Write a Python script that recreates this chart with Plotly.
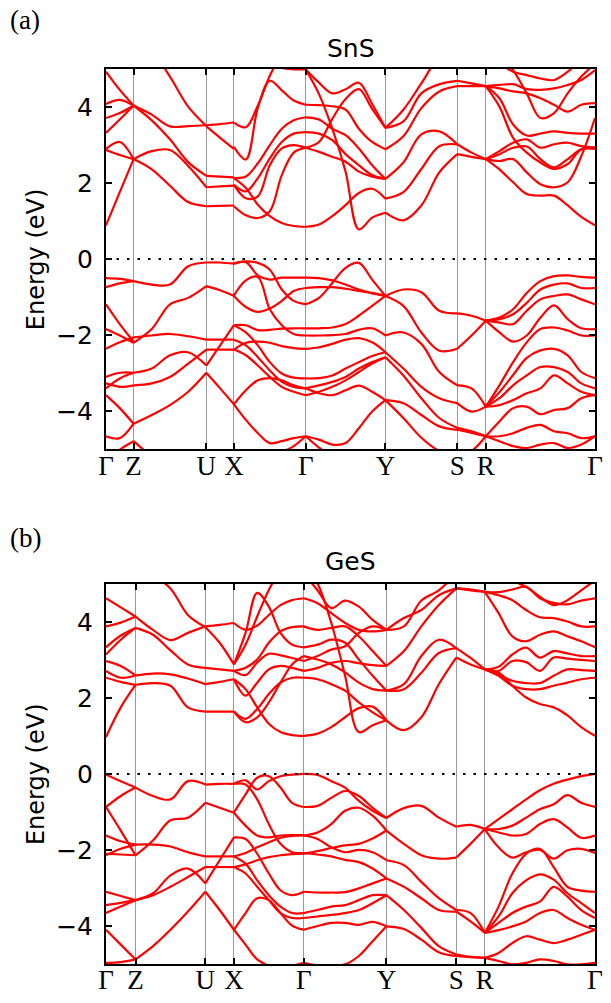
import numpy as np
import plotly.graph_objects as go

# ---------------- data: high-symmetry points ----------------
KLABELS = ["Γ", "Z", "U", "X", "Γ", "Y", "S", "R", "Γ"]
SNS_KPTS = [0, 28, 102, 130, 203, 284, 357, 386, 497]
GES_KPTS = [0, 30, 101, 130, 201, 285, 356, 385, 497]
YTICKS = [-4, -2, 0, 2, 4]

# ---------------- SnS bands (eV), per path segment ----------------
SNS_GZ = [
    [0.89, 1.76, 2.63], [2.90, 3.08, 2.63], [2.87, 2.74, 2.63], [3.32, 3.67, 4.04],
    [3.71, 3.84, 4.04], [4.08, 4.19, 4.04], [4.93, 4.45, 4.04],
    [-0.50, -0.52, -0.58], [-0.74, -0.64, -0.58], [-1.19, -1.71, -2.17], [-1.84, -2.01, -2.20],
    [-2.36, -2.19, -2.06], [-3.10, -2.99, -2.99], [-3.40, -3.14, -2.99], [-3.27, -3.36, -3.32],
    [-3.58, -3.92, -4.33], [-4.66, -4.71, -4.33], [-5.31, -5.01, -4.79],
]
SNS_ZU = [
    [4.04, 3.80, 3.49, 3.50, 3.52], [4.04, 3.65, 3.15, 2.55, 2.19], [2.63, 2.84, 2.87, 2.45, 1.89],
    [2.63, 2.36, 1.93, 1.50, 1.39], [6.00, 5.50, 4.80, 4.01, 3.50],
    [-0.58, -0.67, -0.67, -0.19, -0.09], [-2.20, -1.84, -1.19, -1.02, -0.71],
    [-2.06, -2.01, -1.97, -2.03, -2.12], [-2.99, -2.88, -2.53, -2.45, -2.80],
    [-3.32, -3.27, -3.10, -2.75, -2.38], [-4.33, -4.10, -3.84, -3.49, -2.99],
    [-4.79, -5.20, -5.60, -5.80, -5.90],
]
SNS_UX = [
    [3.52, 3.55, 3.60], [3.49, 3.19, 2.90], [2.19, 2.17, 2.15], [1.89, 1.91, 1.93], [1.39, 1.40, 1.41],
    [-0.09, -0.09, -0.12], [-0.71, -0.82, -0.97], [-2.12, -2.12, -2.12], [-2.80, -2.27, -1.74],
    [-2.38, -2.38, -2.38], [-2.99, -3.40, -3.82],
]
SNS_XG = [
    [3.59, 3.47, 4.04, 4.82, 5.40, 5.80, 6.00], [5.90, 5.70, 5.45, 5.20, 5.03, 4.99, 4.99],
    [2.95, 2.62, 3.98, 4.69, 4.44, 4.17, 4.06], [2.13, 2.17, 2.52, 3.00, 3.43, 3.65, 3.73],
    [2.13, 1.87, 1.43, 1.13, 0.95, 0.87, 0.85], [1.95, 1.60, 1.65, 2.47, 2.91, 3.00, 2.93],
    [1.39, 1.15, 1.08, 1.26, 2.21, 2.80, 2.93], [1.95, 1.78, 2.13, 2.65, 3.08, 3.30, 3.34],
    [-0.12, -0.08, -0.43, -0.54, -0.49, -0.49, -0.49], [-0.12, -0.06, -0.10, -0.28, -0.80, -1.10, -1.19],
    [-0.96, -0.56, -0.47, -1.32, -1.74, -1.97, -2.01], [-0.97, -1.26, -1.39, -1.30, -1.10, -0.84, -0.76],
    [-1.74, -1.74, -1.87, -1.86, -1.83, -1.82, -1.82], [-2.38, -2.20, -2.17, -2.20, -2.29, -2.34, -2.36],
    [-1.74, -1.93, -2.27, -2.71, -3.01, -3.12, -3.14], [-2.12, -2.27, -2.58, -2.93, -3.23, -3.36, -3.40],
    [-2.38, -2.53, -2.80, -3.10, -3.36, -3.49, -3.58], [-3.82, -3.45, -3.19, -3.13, -3.19, -3.32, -3.40],
    [-3.82, -4.23, -4.58, -4.84, -4.79, -4.71, -4.66], [-5.90, -5.80, -5.60, -5.40, -5.10, -4.92, -4.66],
]
SNS_GY = [
    [4.99, 4.64, 4.36, 4.47, 4.64, 4.08, 3.45], [4.99, 4.34, 3.43, 2.30, 0.78, 1.09, 1.22],
    [4.06, 4.05, 4.02, 3.93, 3.43, 3.08, 2.89], [3.73, 3.67, 3.43, 3.26, 2.91, 2.47, 2.11],
    [3.34, 3.30, 3.13, 2.76, 2.47, 2.21, 2.11], [0.85, 0.91, 1.13, 1.42, 1.74, 1.85, 1.59],
    [2.93, 3.08, 3.69, 4.21, 4.47, 3.95, 3.45], [2.93, 2.82, 2.69, 2.56, 2.30, 2.17, 2.11],
    [-0.49, -0.50, -0.56, -0.67, -0.80, -0.89, -0.97], [-1.19, -1.02, -0.63, -0.23, -0.10, -0.54, -0.97],
    [-0.76, -0.74, -0.74, -0.78, -0.84, -0.90, -0.97], [-1.82, -1.82, -1.80, -1.71, -1.49, -1.23, -0.97],
    [-2.01, -2.01, -2.00, -1.97, -1.86, -1.82, -2.01], [-2.36, -2.32, -2.23, -2.12, -2.08, -2.19, -2.45],
    [-3.14, -3.13, -3.06, -2.88, -2.71, -2.55, -2.45], [-3.40, -3.32, -3.23, -3.10, -2.88, -2.71, -2.58],
    [-3.58, -3.49, -3.36, -3.19, -2.97, -2.75, -2.58], [-3.40, -3.53, -3.58, -3.45, -3.33, -3.49, -3.71],
    [-4.66, -4.75, -4.88, -4.84, -4.45, -4.01, -3.71], [-4.66, -4.96, -5.20, -5.40, -5.60, -5.70, -5.80],
]
SNS_YS = [
    [3.45, 3.93, 4.62, 5.32, 5.58], [3.45, 3.62, 4.36, 4.60, 4.69], [2.89, 3.23, 3.97, 4.41, 4.55],
    [2.11, 2.54, 3.28, 3.36, 3.02], [1.59, 1.76, 2.37, 2.97, 3.02], [1.22, 1.02, 1.41, 2.28, 2.76],
    [-0.97, -0.80, -0.87, -1.36, -1.43], [-0.97, -1.23, -1.93, -2.41, -2.36],
    [-2.01, -1.93, -2.23, -2.97, -3.32], [-2.45, -2.88, -3.36, -3.66, -3.79],
    [-2.58, -3.06, -3.66, -4.18, -4.44], [-3.71, -3.79, -4.10, -4.40, -4.49],
    [-3.71, -4.18, -4.70, -5.05, -5.20],
]
SNS_SR = [
    [4.69, 4.62, 4.55], [4.55, 4.55, 4.55], [3.02, 2.80, 2.63], [2.76, 2.69, 2.63],
    [-1.43, -1.49, -1.62], [-2.36, -2.01, -1.62], [-3.32, -3.40, -3.88], [-3.79, -4.01, -3.88],
    [-4.44, -4.53, -4.66], [-4.49, -4.57, -4.66], [-5.20, -5.05, -4.66],
]
SNS_RG = [
    [4.55, 4.58, 4.60, 4.47, 4.45, 4.49, 4.58, 4.71, 4.97],
    [4.55, 4.49, 4.41, 4.36, 4.23, 4.06, 3.88, 4.06, 4.10],
    [4.55, 4.23, 3.54, 3.25, 3.30, 3.36, 3.32, 3.30, 3.30],
    [4.55, 4.01, 3.19, 2.80, 2.54, 2.37, 2.50, 2.89, 2.93],
    [2.63, 2.84, 3.06, 3.15, 2.93, 3.02, 3.06, 2.97, 2.93],
    [2.63, 2.76, 2.93, 2.96, 2.63, 2.41, 2.63, 2.89, 2.90],
    [2.63, 2.58, 2.63, 2.28, 1.97, 1.89, 2.02, 2.71, 3.71],
    [2.63, 2.36, 2.02, 1.71, 1.67, 1.67, 1.41, 1.11, 0.89],
    [5.75, 5.40, 4.97, 4.36, 3.71, 3.84, 4.36, 4.80, 5.14],
    [5.40, 5.14, 4.93, 4.84, 4.75, 4.71, 4.93, 5.23, 5.40],
    [-1.62, -1.54, -1.32, -0.89, -0.58, -0.45, -0.43, -0.47, -0.49],
    [-1.62, -1.58, -1.45, -1.15, -0.80, -0.67, -0.64, -0.76, -0.76],
    [-1.62, -1.67, -1.71, -1.36, -1.06, -0.97, -0.93, -1.06, -1.19],
    [-1.62, -1.93, -2.17, -2.01, -1.54, -1.22, -1.58, -1.82, -1.84],
    [-3.88, -3.32, -2.71, -2.19, -1.84, -1.80, -1.88, -2.01, -2.01],
    [-3.88, -3.50, -3.05, -2.60, -2.40, -2.36, -2.53, -2.97, -3.13],
    [-3.88, -3.66, -3.32, -3.06, -2.84, -2.84, -2.97, -3.27, -3.40],
    [-3.88, -3.84, -3.71, -3.53, -3.40, -3.06, -3.27, -3.49, -3.58],
    [-4.66, -4.27, -3.92, -3.88, -4.08, -3.97, -3.92, -3.66, -3.58],
    [-4.66, -4.66, -4.58, -4.44, -4.36, -4.53, -4.58, -4.71, -4.66],
    [-4.66, -4.79, -4.92, -4.97, -4.88, -4.84, -4.97, -4.88, -4.66],
]

# ---------------- GeS bands (eV), per path segment ----------------
GES_GZ = [
    [0.97, 1.75, 2.34], [2.53, 2.42, 2.34], [2.71, 2.53, 2.59], [2.97, 2.84, 2.59],
    [3.14, 3.53, 3.84], [3.33, 3.64, 3.84], [3.88, 3.98, 4.14], [4.62, 4.38, 4.14],
    [-0.02, -0.19, -0.36], [-0.87, -0.58, -0.36], [-1.62, -1.77, -1.86], [-0.87, -1.49, -2.14],
    [-2.10, -2.12, -2.14], [-2.14, -1.97, -1.86], [-3.10, -3.21, -3.32], [-3.45, -3.39, -3.32],
    [-3.66, -3.49, -3.32], [-4.10, -4.49, -4.88], [-4.97, -4.95, -4.88],
]
GES_ZU = [
    [4.14, 3.79, 3.52, 3.71, 3.88], [3.84, 3.66, 3.25, 2.88, 2.79], [5.44, 5.22, 4.88, 4.18, 3.86],
    [2.59, 2.64, 2.62, 2.51, 2.36], [2.34, 2.39, 2.32, 1.75, 1.64],
    [-0.36, -0.58, -0.67, -0.19, -0.28], [-1.86, -1.86, -1.91, -2.06, -2.17],
    [-2.14, -1.75, -1.22, -1.15, -0.76], [-3.32, -3.14, -2.67, -2.49, -2.88],
    [-3.32, -3.19, -2.97, -2.71, -2.45], [-4.88, -4.53, -4.10, -3.62, -3.10],
]
GES_UX = [
    [3.88, 3.92, 3.97], [2.79, 2.75, 2.71], [3.86, 3.45, 2.88], [2.36, 2.42, 2.49], [1.64, 1.64, 1.64],
    [-0.28, -0.26, -0.26], [-0.76, -0.89, -1.02], [-2.17, -2.17, -2.17], [-2.88, -2.27, -1.67],
    [-2.45, -2.45, -2.45], [-3.10, -3.58, -4.10],
]
GES_XG = [
    [3.97, 3.79, 3.90, 4.18, 4.44, 4.57, 4.62], [2.88, 3.40, 4.14, 4.84, 5.36, 5.70, 5.88],
    [2.88, 3.71, 4.76, 4.40, 3.71, 3.40, 3.33], [2.71, 2.60, 2.93, 3.16, 3.12, 3.05, 2.97],
    [2.49, 2.06, 2.40, 2.75, 2.84, 2.79, 2.71], [1.64, 1.36, 1.49, 1.88, 2.40, 2.88, 3.10],
    [2.49, 2.23, 1.75, 1.32, 1.10, 1.02, 1.00], [2.71, 2.79, 3.01, 3.45, 3.75, 3.86, 3.88],
    [1.64, 1.45, 1.71, 2.10, 2.40, 2.53, 2.53],
    [-0.26, -0.17, -0.41, -0.19, -0.06, -0.02, 0.00], [-1.02, -0.54, -0.10, -0.06, -0.36, -0.76, -0.87],
    [-1.02, -1.36, -1.62, -1.67, -1.62, -1.61, -1.61], [-0.26, -0.28, -0.67, -1.32, -1.84, -2.06, -2.08],
    [-1.67, -1.71, -2.10, -2.62, -3.06, -3.19, -3.10], [-2.17, -2.08, -1.93, -1.80, -1.68, -1.63, -1.62],
    [-2.45, -2.38, -2.27, -2.19, -2.14, -2.11, -2.10], [-2.17, -2.36, -2.80, -3.19, -3.49, -3.66, -3.66],
    [-2.45, -2.62, -2.97, -3.32, -3.66, -3.79, -3.79], [-4.10, -3.66, -3.27, -3.32, -3.66, -3.99, -4.10],
    [-4.10, -4.49, -4.88, -5.05, -5.14, -5.05, -4.97],
]
GES_GY = [
    [5.27, 4.83, 4.36, 4.56, 4.40, 4.05, 3.79], [4.62, 4.49, 4.23, 3.97, 3.79, 3.75, 3.79],
    [3.88, 3.79, 3.84, 3.88, 3.62, 3.23, 2.84], [3.33, 3.40, 3.53, 3.45, 3.01, 2.58, 2.19],
    [3.10, 3.01, 2.88, 2.67, 2.40, 2.23, 2.19], [2.97, 3.10, 3.27, 3.36, 3.71, 3.88, 3.79],
    [2.71, 2.79, 2.92, 2.97, 2.91, 2.86, 2.84], [2.53, 2.49, 2.36, 2.19, 1.88, 1.62, 1.41],
    [1.00, 1.06, 1.23, 1.49, 1.73, 1.77, 1.41], [5.53, 5.01, 3.97, 2.58, 1.10, 1.28, 1.41],
    [0.00, -0.03, -0.19, -0.36, -0.71, -0.97, -1.16], [-0.87, -0.84, -0.63, -0.45, -0.58, -0.89, -1.16],
    [-1.62, -1.54, -1.32, -0.97, -0.89, -1.10, -1.49], [-1.62, -1.71, -1.93, -2.06, -2.00, -2.06, -2.27],
    [-2.08, -2.12, -2.17, -2.26, -2.32, -2.49, -2.75], [-2.10, -2.03, -1.95, -1.88, -1.84, -1.70, -1.49],
    [-3.10, -3.12, -3.12, -3.11, -3.01, -2.88, -2.75], [-3.66, -3.58, -3.49, -3.45, -3.32, -3.19, -3.19],
    [-3.79, -3.75, -3.71, -3.66, -3.58, -3.40, -3.19], [-4.10, -4.00, -3.92, -3.92, -3.97, -3.89, -4.01],
    [-4.97, -5.04, -5.05, -5.01, -4.79, -4.40, -4.01],
]
GES_YS = [
    [3.79, 3.88, 4.56, 4.83, 5.27], [3.79, 4.10, 4.31, 4.70, 4.88], [2.84, 3.23, 3.88, 4.44, 4.88],
    [2.19, 2.36, 3.10, 3.53, 3.31], [1.41, 1.15, 1.49, 2.36, 3.06], [2.19, 2.23, 2.66, 3.18, 3.31],
    [-1.16, -0.90, -0.84, -1.15, -1.39], [-1.49, -1.84, -2.14, -2.23, -2.20],
    [-2.27, -2.40, -2.84, -3.27, -3.58], [-2.75, -2.97, -3.27, -3.58, -3.62],
    [-3.19, -3.58, -4.05, -4.53, -4.75], [-4.01, -4.08, -4.36, -4.69, -4.79],
]
GES_SR = [
    [4.88, 4.83, 4.79], [4.88, 4.85, 4.79], [3.31, 3.05, 2.75], [3.06, 2.88, 2.75],
    [-1.39, -1.34, -1.45], [-2.20, -1.84, -1.45], [-3.58, -3.66, -4.18], [-3.62, -3.88, -4.18],
    [-4.75, -4.81, -4.84], [-4.79, -4.82, -4.84],
]
GES_RG = [
    [4.79, 4.78, 4.85, 4.92, 4.62, 4.50, 4.46, 4.56, 4.62],
    [4.79, 4.70, 4.57, 4.31, 4.12, 4.10, 4.01, 3.88, 3.88],
    [4.79, 4.23, 3.62, 3.49, 3.66, 3.75, 3.62, 3.49, 3.33],
    [2.75, 2.82, 3.14, 3.32, 3.06, 3.23, 3.17, 3.10, 3.10],
    [2.75, 2.71, 2.97, 2.94, 2.71, 3.06, 3.03, 3.00, 2.97],
    [2.75, 2.62, 2.45, 2.39, 2.39, 2.58, 2.75, 2.73, 2.71],
    [2.75, 2.67, 2.32, 2.01, 1.84, 1.75, 1.54, 1.23, 1.00],
    [2.75, 2.58, 2.32, 2.23, 2.23, 2.32, 2.40, 2.49, 2.53],
    [5.44, 5.36, 5.09, 4.92, 4.66, 4.44, 4.57, 4.83, 5.09],
    [-1.45, -1.19, -0.93, -0.67, -0.43, -0.26, -0.15, -0.06, 0.00],
    [-1.45, -1.45, -1.36, -1.15, -0.93, -0.80, -0.56, -0.76, -0.87],
    [-1.45, -1.54, -1.62, -1.58, -1.32, -1.19, -1.41, -1.68, -1.62],
    [-1.45, -1.93, -2.20, -2.06, -2.00, -2.23, -2.01, -1.97, -2.08],
    [-4.18, -3.49, -2.62, -2.10, -1.97, -2.45, -2.97, -3.07, -3.10],
    [-4.18, -3.75, -3.14, -2.80, -2.64, -2.78, -3.14, -3.40, -3.66],
    [-4.18, -3.92, -3.66, -3.49, -3.36, -2.97, -3.23, -3.58, -3.79],
    [-4.18, -4.11, -4.01, -3.88, -3.66, -3.58, -3.79, -3.97, -4.10],
    [-4.84, -4.71, -4.45, -4.27, -4.36, -4.45, -4.36, -4.23, -4.10],
    [-4.84, -4.92, -5.01, -4.97, -4.88, -4.92, -5.01, -5.01, -4.97],
]

SNS_SEGMENTS = [SNS_GZ, SNS_ZU, SNS_UX, SNS_XG, SNS_GY, SNS_YS, SNS_SR, SNS_RG]
GES_SEGMENTS = [GES_GZ, GES_ZU, GES_UX, GES_XG, GES_GY, GES_YS, GES_SR, GES_RG]

RED = "#ff0000"
fig = go.Figure()


def add_panel(segments, kpts, xa, ya):
    for i, seg in enumerate(segments):
        xs, ys = [], []
        for band in seg:
            ks = np.linspace(kpts[i], kpts[i + 1], len(band))
            xs += list(ks) + [None]
            ys += list(band) + [None]
        fig.add_trace(go.Scatter(x=xs, y=ys, mode="lines", xaxis=xa, yaxis=ya,
                                 line=dict(color=RED, width=2.2, shape="spline", smoothing=1.0),
                                 hoverinfo="skip", showlegend=False, connectgaps=False))


add_panel(SNS_SEGMENTS, SNS_KPTS, "x", "y")
add_panel(GES_SEGMENTS, GES_KPTS, "x2", "y2")

W, H = 611, 1003
ML, MR, MT, MB = 106, 8, 69, 30
PH = H - MT - MB


def fy(py):  # page pixel y -> paper fraction
    return (H - MB - py) / PH


def fx(px):
    return (px - ML) / (W - ML - MR)


xcommon = dict(range=[0, 497], showgrid=True, gridcolor="#9a9a9a", gridwidth=1,
               ticks="inside", ticklen=6, tickwidth=1.5, tickcolor="black",
               showline=True, linecolor="black", linewidth=2, mirror="ticks", zeroline=False,
               ticktext=KLABELS, tickfont=dict(family="Liberation Serif", size=27, color="black"),
               ticklabelstandoff=-9)
ycommon = dict(range=[-5, 5], tickvals=YTICKS, ticks="inside", ticklen=6, tickwidth=1.5,
               tickcolor="black", showline=True, linecolor="black", linewidth=2, mirror="ticks",
               showgrid=False, zeroline=False,
               tickfont=dict(family="DejaVu Sans", size=25, color="black"), ticklabelstandoff=6)

fig.update_layout(
    width=W, height=H, margin=dict(l=ML, r=MR, t=MT, b=MB),
    paper_bgcolor="white", plot_bgcolor="white",
    xaxis=dict(domain=[0, 1], anchor="y", tickvals=SNS_KPTS, **xcommon),
    yaxis=dict(domain=[fy(453), 1], anchor="x", **ycommon),
    xaxis2=dict(domain=[0, 1], anchor="y2", tickvals=GES_KPTS, **xcommon),
    yaxis2=dict(domain=[0, fy(589)], anchor="x2", **ycommon),
    shapes=[
        dict(type="line", xref="x domain", yref="y", x0=0, x1=1, y0=0, y1=0,
             line=dict(color="black", width=2, dash="2.5px,8px"), layer="above"),
        dict(type="line", xref="x2 domain", yref="y2", x0=0, x1=1, y0=0, y1=0,
             line=dict(color="black", width=2, dash="2.5px,8px"), layer="above"),
    ],
    annotations=[
        dict(text="SnS", x=0.5, y=fy(48), xref="paper", yref="paper", showarrow=False,
             font=dict(family="DejaVu Sans", size=25, color="black"), xanchor="center", yanchor="middle"),
        dict(text="GeS", x=0.5, y=fy(566), xref="paper", yref="paper", showarrow=False,
             font=dict(family="DejaVu Sans", size=25, color="black"), xanchor="center", yanchor="middle"),
        dict(text="(a)", x=fx(24), y=fy(20), xref="paper", yref="paper", showarrow=False,
             font=dict(family="Liberation Serif", size=27, color="black"), xanchor="center", yanchor="middle"),
        dict(text="(b)", x=fx(24), y=fy(543), xref="paper", yref="paper", showarrow=False,
             font=dict(family="Liberation Serif", size=27, color="black"), xanchor="center", yanchor="middle"),
        dict(text="Energy (eV)", x=fx(35), y=fy(261), xref="paper", yref="paper", showarrow=False,
             textangle=-90, font=dict(family="DejaVu Sans", size=24, color="black"),
             xanchor="center", yanchor="middle"),
        dict(text="Energy (eV)", x=fx(35), y=fy(781), xref="paper", yref="paper", showarrow=False,
             textangle=-90, font=dict(family="DejaVu Sans", size=24, color="black"),
             xanchor="center", yanchor="middle"),
    ],
)

# Page styling injected before the figure is parsed (tiny inline data: script, no network):
# no body margin, and the figure pinned to the window's top-left corner so the page is
# exactly the 611x1003 window.
EARLY_JS = ("data:text/javascript,var s=document.createElement('style');"
            "s.textContent='html,body{margin:0;padding:0;overflow:hidden}"
            ".plotly-graph-div{position:fixed!important;left:0;top:0}';"
            "document.head.appendChild(s);document.body.style.margin=0;//.js")

fig.write_html("out.html", config={"displayModeBar": False}, include_mathjax=EARLY_JS)
